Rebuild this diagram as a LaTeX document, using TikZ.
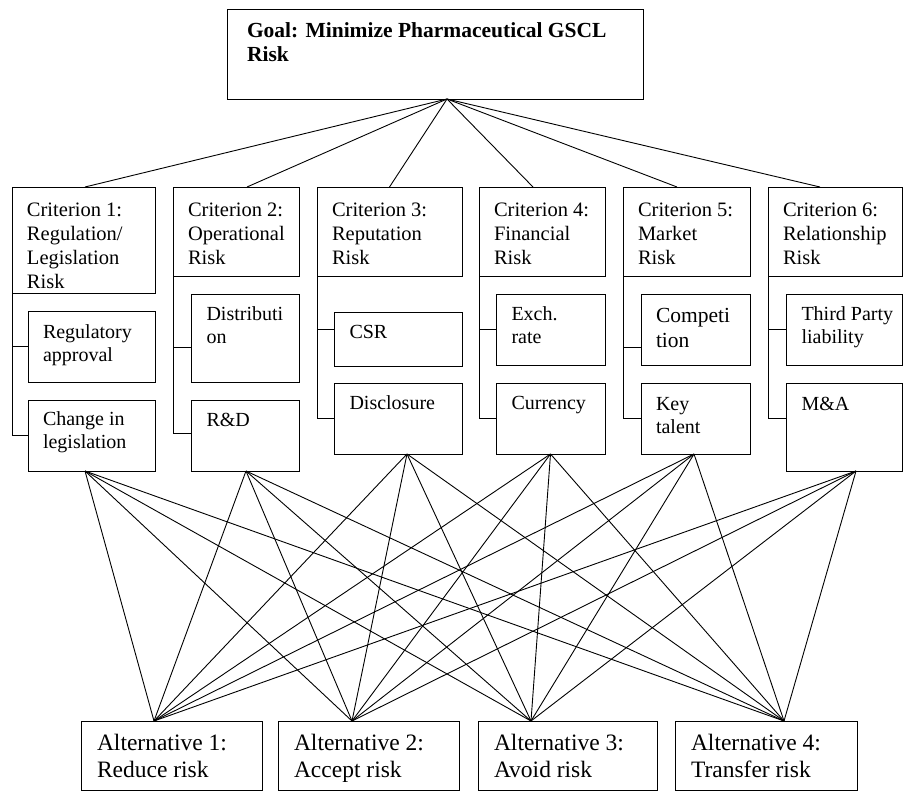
\documentclass[tikz,border=0pt]{standalone}
\usepackage{fontspec}
\setmainfont{Liberation Serif}
\newcommand{\bxt}[5]{\parbox[c][#2pt][t]{#1pt}{\raggedright\leftskip=#3pt\relax\rule{0pt}{#4pt}#5}}
\begin{document}
\begin{tikzpicture}[x=1pt,y=-1pt,
  box/.style={draw, line width=1pt, inner sep=0pt, outer sep=0pt, anchor=north west, rectangle},
  goalbox/.style={box, font=\fontsize{21.5}{25}\selectfont\bfseries},
  crit/.style={box, font=\fontsize{20.5}{24}\selectfont},
  sub/.style={box, font=\fontsize{20}{23}\selectfont},
  alt/.style={box, font=\fontsize{23.5}{27}\selectfont},
  conn/.style={draw, line width=0.9pt},
  brk/.style={draw, line width=1pt}]
\useasboundingbox (0,0) rectangle (904,792);

% goal
\node[goalbox] (goal) at (227,10) {\bxt{416}{89}{20}{27}{Goal: Minimize Pharmaceutical GSCL\\Risk}};

% criteria
\node[crit] (c1) at (12,187)  {\bxt{143}{106}{15}{29}{Criterion 1:\\Regulation/\\Legislation\\Risk}};
\node[crit] (c2) at (173,187) {\bxt{126}{89}{15}{29}{Criterion 2:\\Operational\\Risk}};
\node[crit] (c3) at (317,187) {\bxt{145}{89}{15}{29}{Criterion 3:\\Reputation\\Risk}};
\node[crit] (c4) at (479,187) {\bxt{126}{89}{15}{29}{Criterion 4:\\Financial\\Risk}};
\node[crit] (c5) at (623,187) {\bxt{127}{89}{15}{29}{Criterion 5:\\Market\\Risk}};
\node[crit] (c6) at (768,187) {\bxt{134}{89}{15}{29}{Criterion 6:\\Relationship\\Risk}};

% sub-criteria
\node[sub] (r1a) at (28,311)  {\bxt{127}{71}{15}{27}{Regulatory\\approval}};
\node[sub] (r1b) at (28,400)  {\bxt{127}{71}{15}{25}{Change in\\legislation}};
\node[sub] (r2a) at (191,294) {\bxt{108}{88}{15.5}{26}{Distributi\\on}};
\node[sub] (r2b) at (191,400) {\bxt{108}{71}{15.5}{26}{R\&D}};
\node[sub] (r3a) at (334,312) {\bxt{128}{54}{15.5}{26}{CSR}};
\node[sub] (r3b) at (334,383) {\bxt{128}{71}{15.5}{26}{Disclosure}};
\node[sub] (r4a) at (496,294) {\bxt{109}{71}{15.5}{26}{Exch.\\rate}};
\node[sub] (r4b) at (496,383) {\bxt{109}{71}{15.5}{26}{Currency}};
\node[sub, font=\fontsize{21.5}{25}\selectfont] (r5a) at (641,294) {\bxt{109}{71}{15}{28}{Competi\\tion}};
\node[sub] (r5b) at (641,383) {\bxt{109}{71}{15}{27}{Key\\talent}};
\node[sub] (r6a) at (786,294) {\bxt{116}{71}{15.5}{26}{Third Party\\liability}};
\node[sub] (r6b) at (786,383) {\bxt{116}{88}{15.5}{27}{M\&A}};

% alternatives
\node[alt] (a1) at (81,721)  {\bxt{181}{69}{16}{29}{Alternative 1:\\Reduce risk}};
\node[alt] (a2) at (278,721) {\bxt{181}{69}{16}{29}{Alternative 2:\\Accept risk}};
\node[alt] (a3) at (478,721) {\bxt{179}{69}{16}{29}{Alternative 3:\\Avoid risk}};
\node[alt] (a4) at (675,721) {\bxt{182}{69}{16}{29}{Alternative 4:\\Transfer risk}};

% connection points
\coordinate (g0) at ([xshift=12pt]goal.south);
\coordinate (ct1) at ([xshift=1.5pt]c1.north);
\coordinate (ct2) at ([xshift=11pt]c2.north);
\coordinate (ct3) at (c3.north);
\coordinate (ct4) at ([xshift=-9pt]c4.north);
\coordinate (ct5) at ([xshift=-9.5pt]c5.north);
\coordinate (ct6) at ([xshift=-15pt]c6.north);

\coordinate (b1) at ([xshift=-6.5pt]r1b.south);
\coordinate (b2) at ([xshift=1pt]r2b.south);
\coordinate (b3) at ([xshift=9pt]r3b.south);
\coordinate (b4) at (r4b.south);
\coordinate (b5) at ([xshift=-1.5pt]r5b.south);
\coordinate (b6) at ([xshift=12pt]r6b.south);

\coordinate (p1) at ([xshift=-17.5pt]a1.north);
\coordinate (p2) at ([xshift=-16.5pt]a2.north);
\coordinate (p3) at ([xshift=-36.5pt]a3.north);
\coordinate (p4) at ([xshift=18pt]a4.north);

% goal to criteria
\foreach \c in {ct1,ct2,ct3,ct4,ct5,ct6} \draw[conn] (g0) -- (\c);

% brackets
\coordinate (t1a) at (r1a.west);
\coordinate (t1b) at (r1b.west);
\coordinate (t2a) at ([yshift=-9pt]r2a.west);
\coordinate (t2b) at ([yshift=2pt]r2b.west);
\coordinate (t3a) at ([yshift=10pt]r3a.west);
\coordinate (t3b) at (r3b.west);
\coordinate (t4a) at (r4a.west);
\coordinate (t4b) at (r4b.west);
\coordinate (t5a) at ([yshift=-17.5pt]r5a.west);
\coordinate (t5b) at (r5b.west);
\coordinate (t6a) at (r6a.west);
\coordinate (t6b) at ([yshift=9pt]r6b.west);
\foreach \i in {1,...,6} {
  \draw[brk] (t\i b) -| (c\i.south west);
  \draw[brk] (t\i a) -| (c\i.south west);
}

% sub-criteria to alternatives
\foreach \b in {b1,b2,b3,b4,b5,b6}
  \foreach \p in {p1,p2,p3,p4}
    \draw[conn] (\b) -- (\p);
\end{tikzpicture}
\end{document}
